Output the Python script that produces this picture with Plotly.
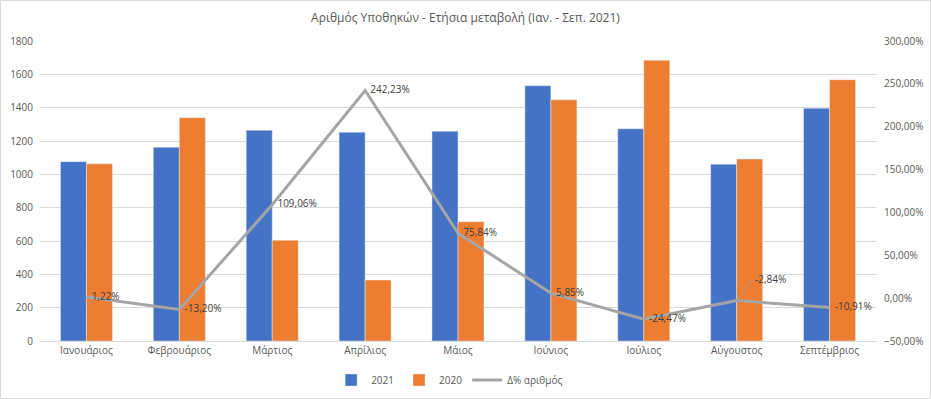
import plotly.graph_objects as go

months = ["Ιανουάριος", "Φεβρουάριος", "Μάρτιος", "Απρίλιος", "Μάιος",
          "Ιούνιος", "Ιούλιος", "Αύγουστος", "Σεπτέμβριος"]
y2021 = [1076, 1163, 1265, 1253, 1259, 1532, 1273, 1061, 1397]
y2020 = [1063, 1340, 605, 366, 716, 1447, 1685, 1092, 1568]
pct = [1.22, -13.20, 109.06, 242.23, 75.84, 5.85, -24.47, -2.84, -10.91]

def fmt(v):
    return f"{v:.2f}%".replace(".", ",")

labels = [fmt(v) for v in pct]
line_text = [("" if m == "Αύγουστος" else "  " + t) for m, t in zip(months, labels)]

txt = "#595959"
fig = go.Figure()
fig.add_trace(go.Bar(x=months, y=y2021, name="2021", marker_color="#4472C4"))
fig.add_trace(go.Bar(x=months, y=y2020, name="2020", marker_color="#ED7D31"))
fig.add_trace(go.Scatter(x=months, y=pct, name="Δ% αριθμός", yaxis="y2",
                         mode="lines+text", text=line_text,
                         textposition="middle right",
                         textfont=dict(size=10, color="#404040"),
                         line=dict(color="#A5A5A5", width=3)))

# August label with leader line
i = months.index("Αύγουστος")
fig.add_annotation(x=months[i], y=pct[i], yref="y2", text=labels[i],
                   showarrow=True, arrowhead=0, arrowwidth=0.8,
                   arrowcolor="#A5A5A5", ax=16, ay=-22, xanchor="left",
                   font=dict(size=10, color="#404040"))

fig.update_layout(
    width=931, height=399,
    paper_bgcolor="white", plot_bgcolor="white",
    margin=dict(l=40, r=55, t=41, b=58, autoexpand=False),
    title=dict(text="Αριθμός Υποθηκών - Ετήσια μεταβολή (Ιαν. - Σεπ. 2021)",
               x=0.5, xanchor="center", yref="container", y=1 - 18 / 399,
               yanchor="middle",
               font=dict(family="Open Sans, sans-serif", size=12, color=txt)),
    font=dict(family="Open Sans, sans-serif", size=10, color=txt),
    barmode="group", bargap=0.44, bargroupgap=0,
    separators=",.",
    legend=dict(orientation="h", x=0.49, xanchor="center",
                yref="container", y=1 - 380 / 399, yanchor="middle",
                font=dict(size=10, color=txt), traceorder="normal"),
    xaxis=dict(showgrid=False, showline=True, linecolor="#D9D9D9",
               tickfont=dict(size=10, color=txt), ticks="", automargin=False),
    yaxis=dict(range=[0, 1800], dtick=200, gridcolor="#D9D9D9",
               zeroline=False, tickfont=dict(size=10, color=txt), automargin=False,
               ticklabelstandoff=6),
    yaxis2=dict(range=[-50, 300], dtick=50, overlaying="y", side="right",
                showgrid=False, zeroline=False, tickformat=".2f", ticksuffix="%",
                tickfont=dict(size=10, color=txt), automargin=False,
                ticklabelstandoff=7),
    shapes=[dict(type="rect", xref="paper", yref="paper",
                 x0=-39.5/836, x1=(836 + 54.5)/836,
                 y0=-57.5/300, y1=(300 + 40.5)/300,
                 line=dict(color="#D9D9D9", width=1), fillcolor="rgba(0,0,0,0)")],
)

fig.write_html("out.html", config={"displayModeBar": False},
               post_script="document.body.style.margin='0';document.body.style.overflow='hidden';")
